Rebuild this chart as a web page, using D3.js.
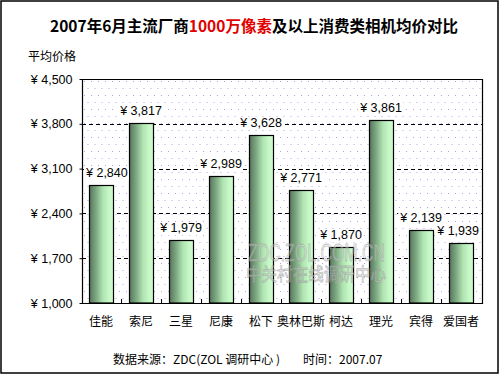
<!DOCTYPE html>
<html><head><meta charset="utf-8">
<script src="https://cdn.jsdelivr.net/npm/d3@7/dist/d3.min.js"></script>
<style>body{margin:0;background:#fff}svg{display:block}</style>
</head><body>
<svg id="c" width="500" height="375"></svg>
<script>
const categories = ["佳能","索尼","三星","尼康","松下","奥林巴斯","柯达","理光","宾得","爱国者"];
const prices = [2840,3817,1979,2989,3628,2771,1870,3861,2139,1939];
const yTicks = [1000,1700,2400,3100,3800,4500];
const titleParts = [["2007年6月主流厂商","#000"],["1000万像素","#e00000"],["及以上消费类相机均价对比","#000"]];

const svg = d3.select("#c");
const cjk = "'Noto Sans CJK SC','Noto Sans',sans-serif";
const lat = "'Liberation Sans',Arial,sans-serif";
const P = {l:82, r:482, t:79, b:303};

const defs = svg.append("defs");
const pat = defs.append("pattern").attr("id","dots").attr("patternUnits","userSpaceOnUse")
  .attr("width",7).attr("height",14).attr("x",P.l).attr("y",P.t);
pat.append("rect").attr("x",2).attr("y",2).attr("width",1).attr("height",1).attr("fill","#b79ee6");
pat.append("rect").attr("x",5.5).attr("y",9).attr("width",1).attr("height",1).attr("fill","#b79ee6");
const g = defs.append("linearGradient").attr("id","bar").attr("x1",0).attr("x2",1).attr("y1",0).attr("y2",0);
[[0,"#57755b"],[0.25,"#7aa37e"],[0.55,"#aee2b0"],[0.8,"#c6f7c7"],[1,"#cdfccd"]]
  .forEach(([o,c])=>g.append("stop").attr("offset",o).attr("stop-color",c));

// outer border
svg.append("rect").attr("x",1).attr("y",1).attr("width",497).attr("height",372)
  .attr("fill","#fff").attr("stroke","#000").attr("stroke-width",1.5);

// title
const tt = svg.append("text").attr("x",254).attr("y",32).attr("text-anchor","middle")
  .attr("font-family",cjk).attr("font-size",15.5).attr("font-weight","bold");
titleParts.forEach(([t,c])=>tt.append("tspan").attr("fill",c).text(t));

svg.append("text").attr("x",28).attr("y",61).attr("font-family",cjk).attr("font-size",12).text("平均价格");

const x = d3.scaleBand().domain(categories).range([P.l,P.r]).paddingInner(0.4).paddingOuter(0.2).align(0.44);
const y = d3.scaleLinear().domain([1000,4500]).range([P.b,P.t]);

// plot bg
svg.append("rect").attr("x",P.l).attr("y",P.t).attr("width",P.r-P.l).attr("height",P.b-P.t).attr("fill","#fff");
svg.append("rect").attr("x",P.l).attr("y",P.t).attr("width",P.r-P.l).attr("height",P.b-P.t).attr("fill","url(#dots)");

// gridlines
svg.append("g").selectAll("line").data(yTicks.filter(v=>v>1000&&v<4500)).join("line")
  .attr("x1",P.l).attr("x2",P.r).attr("y1",d=>Math.round(y(d))+0.5).attr("y2",d=>Math.round(y(d))+0.5)
  .attr("stroke","#000").attr("stroke-dasharray","4,3");

// bars
svg.append("g").selectAll("rect").data(categories).join("rect")
  .attr("x",d=>Math.round(x(d))+0.5).attr("width",x.bandwidth())
  .attr("y",(d,i)=>Math.round(y(prices[i]))+0.5).attr("height",(d,i)=>P.b-Math.round(y(prices[i]))-0.5)
  .attr("fill","url(#bar)").attr("stroke","#000").attr("stroke-width",1.2);

// watermark (drawn over bars)
const wm = svg.append("g").attr("fill","rgba(235,235,235,0.35)").attr("stroke","rgba(150,150,150,0.6)").attr("stroke-width",0.8);
wm.append("text").attr("x",248).attr("y",261).attr("font-family",lat).attr("font-size",23)
  .attr("textLength",137).attr("lengthAdjust","spacingAndGlyphs").text("ZDC.ZOL.COM.CN");
wm.append("text").attr("x",246).attr("y",281).attr("font-family",cjk).attr("font-size",18)
  .attr("textLength",140).attr("lengthAdjust","spacingAndGlyphs").text("中关村在线调研中心");

// frame
svg.append("path").attr("d",`M${P.l+0.5},${P.b+0.5}V${P.t+0.5}H${P.r+0.5}V${P.b+0.5}Z`)
  .attr("fill","none").attr("stroke","#000").attr("stroke-width",1.2);

// axes
const yAxis = d3.axisLeft(y).tickValues(yTicks).tickSize(3).tickFormat(d=>"¥ "+d3.format(",")(d));
const ya = svg.append("g").attr("transform",`translate(${P.l+0.5},0)`).call(yAxis);
ya.select(".domain").remove();
ya.selectAll("text").attr("x",-10).attr("font-family",lat).attr("font-size",12.5).attr("fill","#000");

const xAxis = d3.axisBottom(x).tickSize(0).tickPadding(12);
const xa = svg.append("g").attr("transform",`translate(0,${P.b+0.5})`).call(xAxis);
xa.select(".domain").remove();
xa.selectAll("text").attr("font-family",cjk).attr("font-size",12).attr("fill","#000").attr("dy","0.85em");
// category separator ticks
svg.append("g").selectAll("line").data(categories.slice(1)).join("line")
  .attr("x1",d=>x(d)-x.step()*x.paddingInner()/2+0.5).attr("x2",d=>x(d)-x.step()*x.paddingInner()/2+0.5)
  .attr("y1",P.b-4).attr("y2",P.b).attr("stroke","#000");

// labels
const lg = svg.append("g");
categories.forEach((c,i)=>{
  const cx = x(c)+x.bandwidth()/2;
  const txt = "¥ "+d3.format(",")(prices[i]);
  const t = lg.append("text").attr("y",y(prices[i])-8).attr("font-family",lat).attr("font-size",12.5)
    .attr("text-anchor","middle").attr("x",cx).text(txt);
  const bb = t.node().getBBox();
  let dx = 0;
  if (bb.x < P.l+3) dx = P.l+3-bb.x;
  if (bb.x+bb.width > P.r-3) dx = P.r-3-(bb.x+bb.width);
  t.attr("x",cx+dx);
  lg.insert("rect","text").attr("x",bb.x+dx-1).attr("y",bb.y+1).attr("width",bb.width+2).attr("height",bb.height-1).attr("fill","#fff");
});
lg.selectAll("text").raise();

// footer
svg.append("text").attr("x",113).attr("y",364).attr("font-family",cjk).attr("font-size",12).text("数据来源：ZDC(ZOL 调研中心 )");
svg.append("text").attr("x",303).attr("y",364).attr("font-family",cjk).attr("font-size",12).text("时间：2007.07");
</script>
</body></html>
